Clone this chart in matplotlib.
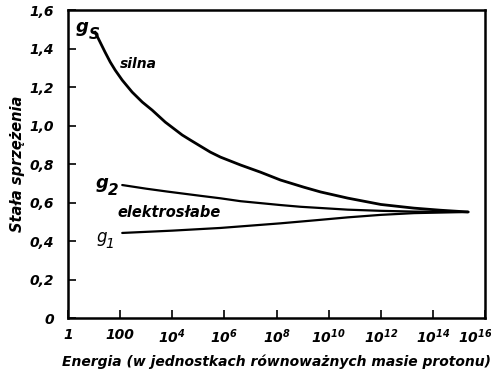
# plot.py
# Coupling constants vs. energy (scanned textbook figure)

import numpy as np
import matplotlib.pyplot as plt
from matplotlib.transforms import ScaledTranslation

# log10 of energy (proton mass units) and coupling values
gs_exp = [1.04, 1.23, 1.42, 1.62, 1.81, 2.08, 2.46, 2.85, 3.23, 3.73, 4.38, 4.69,
          5.08, 5.46, 5.85, 6.62, 7.38, 8.15, 9.04, 9.69, 10.73, 12.0, 13.27, 14.3, 15.35]
gs_val = [1.486, 1.434, 1.382, 1.33, 1.288, 1.236, 1.174, 1.122, 1.08, 1.018, 0.951, 0.925,
          0.893, 0.862, 0.836, 0.795, 0.758, 0.717, 0.68, 0.655, 0.623, 0.59, 0.571, 0.56, 0.551]

g2_exp = [2.08, 3.0, 3.81, 5.08, 5.85, 6.62, 8.15, 8.92, 10.73, 12.0, 13.27, 15.35]
g2_val = [0.691, 0.672, 0.657, 0.635, 0.622, 0.607, 0.587, 0.578, 0.563, 0.557, 0.553, 0.551]

g1_exp = [2.08, 4.0, 5.85, 8.15, 9.5, 10.73, 12.0, 13.27, 15.35]
g1_val = [0.442, 0.454, 0.468, 0.492, 0.508, 0.523, 0.536, 0.545, 0.551]

xtick_exp = [0, 2, 4, 6, 8, 10, 12, 14, 16]
xtick_labels = ["1", "100", "$10^{4}$", "$10^{6}$", "$10^{8}$", "$10^{10}$",
                "$10^{12}$", "$10^{14}$", "$10^{16}$"]
ytick_vals = [0, 0.2, 0.4, 0.6, 0.8, 1.0, 1.2, 1.4, 1.6]
ytick_labels = ["0", "0,2", "0,4", "0,6", "0,8", "1,0", "1,2", "1,4", "1,6"]

plt.rcParams["font.family"] = "DejaVu Sans"
plt.rcParams["mathtext.fontset"] = "custom"
plt.rcParams["mathtext.it"] = "DejaVu Sans:italic:bold"
plt.rcParams["mathtext.rm"] = "DejaVu Sans:italic:bold"
plt.rcParams["mathtext.default"] = "it"

fig = plt.figure(figsize=(4.91, 3.74), dpi=100)
ax = fig.add_axes([0.1385, 0.1497, 0.8495, 0.8233])

to_e = lambda e: np.power(10.0, e)

ax.plot(to_e(gs_exp), gs_val, color="black", lw=2.0,
        solid_capstyle="round", solid_joinstyle="round")
ax.plot(to_e(g2_exp), g2_val, color="black", lw=1.6,
        solid_capstyle="round", solid_joinstyle="round")
ax.plot(to_e(g1_exp), g1_val, color="black", lw=1.6,
        solid_capstyle="round", solid_joinstyle="round")

ax.set_xscale("log")
ax.set_xlim(1, 1e16)
ax.set_ylim(0, 1.6)

ax.set_xticks(to_e(xtick_exp))
ax.set_xticklabels(xtick_labels, fontsize=10, style="italic", weight="bold")
ax.minorticks_off()
ax.set_yticks(ytick_vals)
ax.set_yticklabels(ytick_labels, fontsize=10, style="italic", weight="bold")
ax.tick_params(direction="in", length=6, width=1.2)
ax.tick_params(axis="x", pad=7)
ax.tick_params(axis="y", pad=10)

# last label sits a bit to the left, as in the original
last = ax.get_xticklabels()[-1]
last.set_transform(last.get_transform() + ScaledTranslation(-0.1, 0, fig.dpi_scale_trans))

for s in ax.spines.values():
    s.set_linewidth(1.8)

ax.set_xlabel("Energia (w jednostkach równoważnych masie protonu)",
              fontsize=10, style="italic", weight="bold", labelpad=6)
ax.set_ylabel("Stała sprzężenia", fontsize=10.5, style="italic", weight="bold", labelpad=3)


def g_label(x, y, sub, bold=True, size=13, dx=9):
    # letter g with a large subscript, like the hand-set figure
    w = "bold" if bold else "medium"
    ax.annotate("g", (x, y), fontsize=size, style="italic", weight=w, va="center")
    ax.annotate(sub, (x, y), xytext=(dx, -5), textcoords="offset points",
                fontsize=size - 2, style="italic", weight=w, va="center")


# curve labels
g_label(to_e(0.3), 1.51, "S")
ax.text(to_e(2.0), 1.32, "silna", fontsize=10, style="italic", weight="bold", va="center")
g_label(to_e(1.05), 0.7, "2")
ax.text(to_e(1.9), 0.55, "elektrosłabe", fontsize=10.5, style="italic", weight="bold", va="center")
g_label(to_e(1.1), 0.42, "1", bold=False, size=12, dx=6.5)

fig.savefig("out.png", dpi=100)
